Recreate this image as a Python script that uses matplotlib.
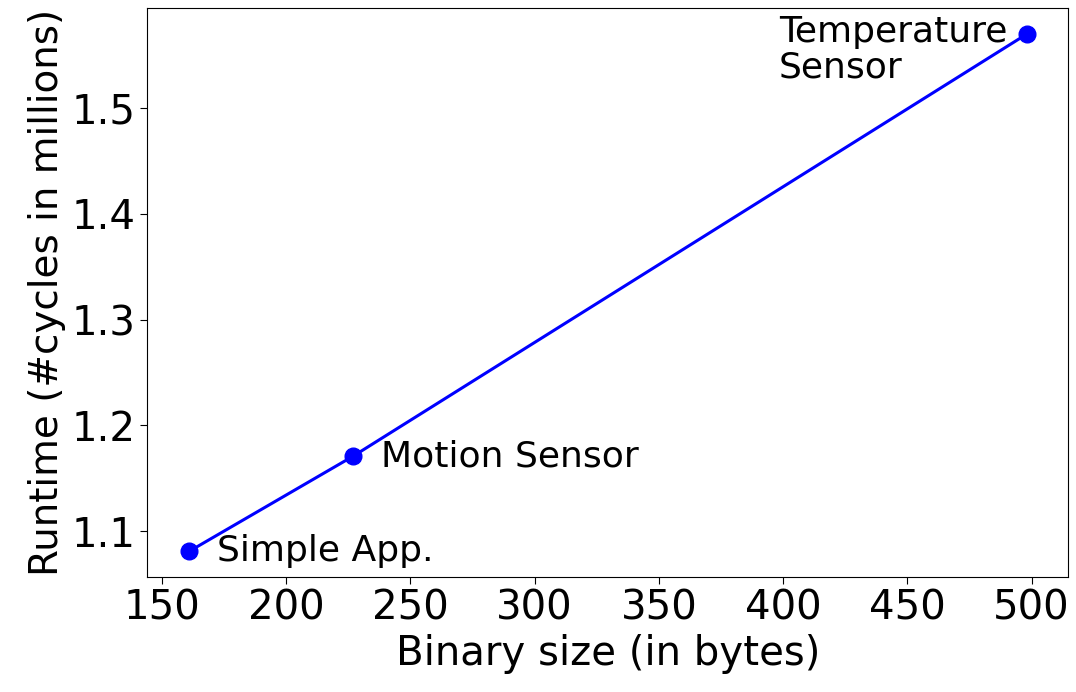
import matplotlib
matplotlib.use("Agg")
import matplotlib.pyplot as plt

sizes = [161, 227, 498]
runtimes = [1.081, 1.171, 1.570]
names = ["Simple App.", "Motion Sensor", "Temperature\nSensor"]
xticks = [150, 200, 250, 300, 350, 400, 450, 500]
yticks = [1.1, 1.2, 1.3, 1.4, 1.5]

fig, ax = plt.subplots(figsize=(10.76, 6.92), dpi=100)
ax.plot(sizes, runtimes, "o-", color="blue", lw=2.2, ms=12)

ax.annotate(names[0], (sizes[0], runtimes[0]), xytext=(20, 0), textcoords="offset points",
            ha="left", va="center", fontsize=26)
ax.annotate(names[1], (sizes[1], runtimes[1]), xytext=(20, 0), textcoords="offset points",
            ha="left", va="center", fontsize=26)
ax.annotate(names[2], (sizes[2], runtimes[2]), xytext=(-14, 14), textcoords="offset points",
            ha="right", va="top", fontsize=26, multialignment="left", linespacing=1.05)

ax.set_xlabel("Binary size (in bytes)", fontsize=29)
ax.set_ylabel("Runtime (#cycles in millions)", fontsize=28)
ax.set_xticks(xticks)
ax.set_yticks(yticks)
ax.tick_params(labelsize=29, length=5)

fig.subplots_adjust(left=0.137, right=0.993, top=0.988, bottom=0.166)
fig.savefig("out.png")
